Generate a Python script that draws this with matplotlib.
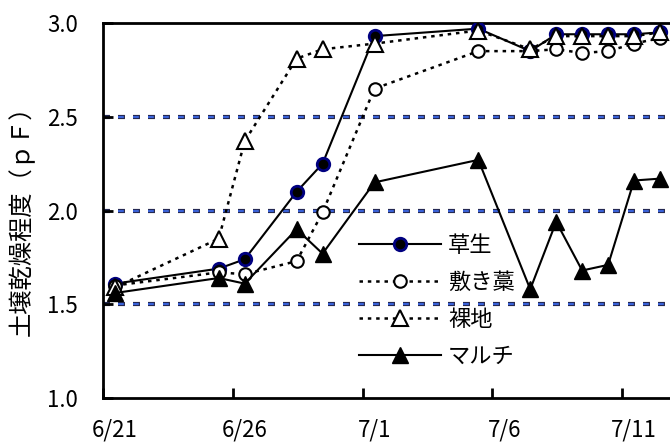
import numpy as np
import pandas as pd
import matplotlib
matplotlib.use('Agg')
import matplotlib.pyplot as plt

plt.rcParams['font.family'] = ['Noto Sans CJK JP', 'DejaVu Sans']
plt.rcParams['lines.scale_dashes'] = False

# ---------------- data ----------------
dates = ['6/21', '6/25', '6/26', '6/28', '6/29', '7/1', '7/5',
         '7/7', '7/8', '7/9', '7/10', '7/11', '7/12']
kusa = [1.61, 1.69, 1.74, 2.10, 2.25, 2.93, 2.97, 2.85, 2.94, 2.94, 2.94, 2.94, 2.95]
shikiwara = [1.60, 1.67, 1.66, 1.73, 1.99, 2.65, 2.85, 2.85, 2.86, 2.84, 2.85, 2.89, 2.92]
rachi = [1.59, 1.85, 2.37, 2.81, 2.86, 2.89, 2.96, 2.86, 2.93, 2.93, 2.93, 2.93, 2.95]
mulch = [1.56, 1.64, 1.61, 1.90, 1.77, 2.15, 2.27, 1.58, 1.94, 1.68, 1.71, 2.16, 2.17]
labels = ['草生', '敷き藁', '裸地', 'マルチ']
tick_dates = ['6/21', '6/26', '7/1', '7/6', '7/11']
grid_vals = [1.5, 2.0, 2.5]

t = pd.to_datetime(['2000/' + d for d in dates])
x = np.array((t - t[0]).days, dtype=float)
tt = pd.to_datetime(['2000/' + d for d in tick_dates])
xt = np.array((tt - t[0]).days, dtype=float)

fig = plt.figure(figsize=(6.7, 4.48), dpi=100)
ax = fig.add_axes([103/670, 1-398/448, 570/670, 375/448])

dots = (0, (2.5, 3.5))
for g in grid_vals:
    ax.axhline(g, color='#222244', lw=3.0, ls=(0, (5, 5.8)), zorder=1)
    ax.axhline(g, color='#3a62d8', lw=1.6, ls=(0, (4.2, 6.6)), zorder=1.1)

ax.plot(x, kusa, '-', color='black', lw=1.5, marker='o', ms=9,
        mfc='black', mec='#000080', mew=2, label=labels[0], zorder=3)
ax.plot(x, shikiwara, color='black', lw=1.8, ls=dots, marker='o', ms=9,
        mfc='white', mec='black', mew=1.5, label=labels[1], zorder=3)
ax.plot(x, rachi, color='black', lw=1.8, ls=dots, marker='^', ms=12,
        mfc='white', mec='black', mew=1.5, label=labels[2], zorder=3)
ax.plot(x, mulch, '-', color='black', lw=1.5, marker='^', ms=12,
        mfc='black', mec='black', mew=1, label=labels[3], zorder=3)

ax.set_xlim(-0.46, 21.5)
ax.set_ylim(1.0, 3.0)
ax.set_yticks([1.0, 1.5, 2.0, 2.5, 3.0])
ax.set_yticklabels(['%.1f' % v for v in [1.0, 1.5, 2.0, 2.5, 3.0]])
ax.set_xticks(xt - 0.46)
ax.set_xticklabels([])
ax.set_xticks(xt, minor=True)
ax.set_xticklabels(tick_dates, minor=True)
ax.tick_params(axis='x', which='major', direction='in', length=7, width=2)
ax.tick_params(axis='x', which='minor', length=0, pad=15, labelsize=16)
ax.tick_params(axis='y', direction='in', length=7, width=2, pad=18, labelsize=16)

for s in ['left', 'bottom', 'top']:
    ax.spines[s].set_linewidth(2)
ax.spines['right'].set_visible(False)

ax.set_ylabel('土壌乾燥程度（ｐＦ）', fontsize=17.5)
ax.yaxis.set_label_coords(-0.119, 0.49)

ax.legend(loc='upper left', bbox_to_anchor=(359/670, 1-234/448),
          bbox_transform=fig.transFigure, frameon=False, fontsize=16,
          handlelength=3.7, handletextpad=0.3, labelspacing=0.62,
          borderpad=0, borderaxespad=0)

fig.savefig('out.png', dpi=100)
